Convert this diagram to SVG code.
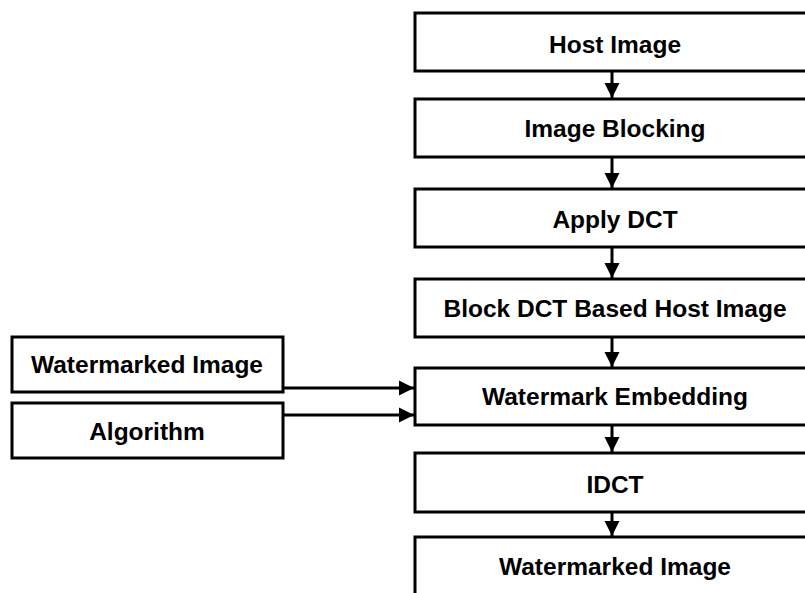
<svg xmlns="http://www.w3.org/2000/svg" width="805" height="593" viewBox="0 0 805 593">
<style>
.box{fill:#fff;stroke:#000;stroke-width:3}
.lbl{font-family:"Liberation Sans",Arial,sans-serif;font-weight:bold;font-size:24.5px;fill:#000;text-anchor:middle}
.con{stroke:#000;stroke-width:3;fill:none}
</style>
<defs>
<marker id="ah" markerUnits="userSpaceOnUse" markerWidth="16" markerHeight="18" viewBox="0 0 16 18" refX="15" refY="9" orient="auto">
<path d="M0,1.5 L15,9 L0,16.5 Z" fill="#000"/>
</marker>
</defs>
<rect width="805" height="593" fill="#fff"/>
<g id="host"><rect class="box" x="415" y="13" width="400" height="58"/><text class="lbl" x="615" y="53">Host Image</text></g>
<g id="blocking"><rect class="box" x="415" y="99" width="400" height="58"/><text class="lbl" x="615" y="137">Image Blocking</text></g>
<g id="dct"><rect class="box" x="415" y="189" width="400" height="58"/><text class="lbl" x="615" y="228">Apply DCT</text></g>
<g id="blockdct"><rect class="box" x="415" y="279" width="400" height="58"/><text class="lbl" x="615" y="317">Block DCT Based Host Image</text></g>
<g id="embed"><rect class="box" x="415" y="368" width="400" height="57"/><text class="lbl" x="615" y="405">Watermark Embedding</text></g>
<g id="idct"><rect class="box" x="415" y="453" width="400" height="59"/><text class="lbl" x="615" y="493">IDCT</text></g>
<g id="out"><rect class="box" x="415" y="537" width="400" height="60"/><text class="lbl" x="615" y="575">Watermarked Image</text></g>
<g id="wmimg"><rect class="box" x="12" y="337" width="271" height="55"/><text class="lbl" x="147" y="373">Watermarked Image</text></g>
<g id="algo"><rect class="box" x="12" y="403" width="271" height="55"/><text class="lbl" x="147" y="440">Algorithm</text></g>
<g id="connectors">
<line class="con" x1="612" y1="71" x2="612" y2="98" marker-end="url(#ah)"/>
<line class="con" x1="612" y1="157" x2="612" y2="188" marker-end="url(#ah)"/>
<line class="con" x1="612" y1="247" x2="612" y2="278" marker-end="url(#ah)"/>
<line class="con" x1="612" y1="337" x2="612" y2="367" marker-end="url(#ah)"/>
<line class="con" x1="612" y1="425" x2="612" y2="452" marker-end="url(#ah)"/>
<line class="con" x1="612" y1="512" x2="612" y2="536" marker-end="url(#ah)"/>
<line class="con" x1="283" y1="388" x2="414" y2="388" marker-end="url(#ah)"/>
<line class="con" x1="283" y1="415" x2="414" y2="415" marker-end="url(#ah)"/>
</g>
</svg>
